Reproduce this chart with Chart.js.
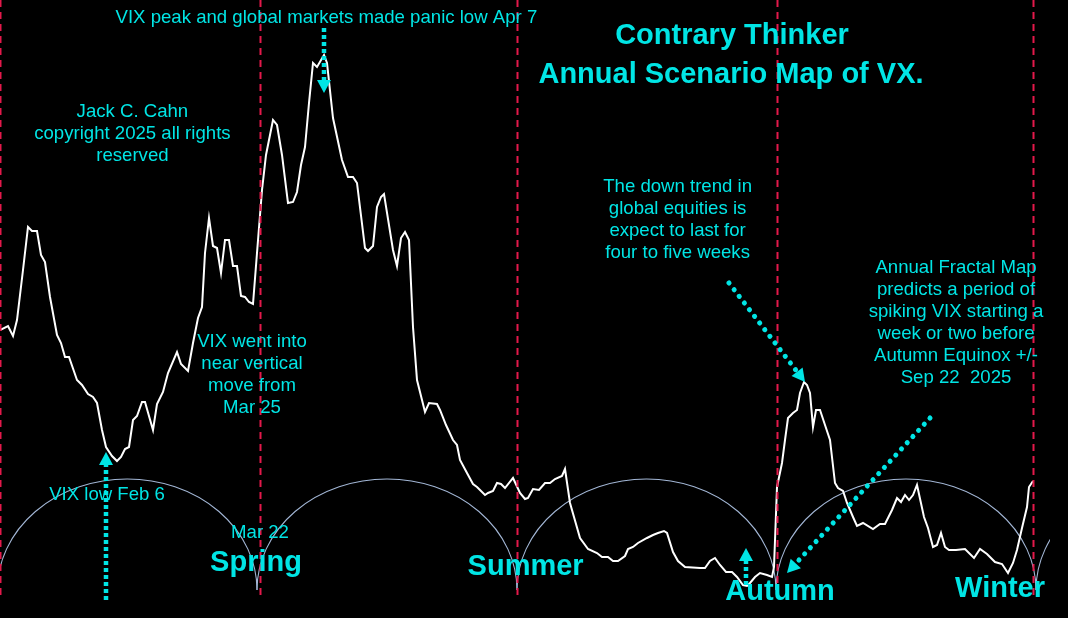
<!DOCTYPE html>
<html>
<head>
<meta charset="utf-8">
<title>Annual Scenario Map of VX</title>
<script src="https://cdn.jsdelivr.net/npm/chart.js@4.4.1/dist/chart.umd.min.js"></script>
<style>
  html, body { margin: 0; padding: 0; background: #000; }
  #wrap { width: 1068px; height: 618px; }
</style>
</head>
<body>
<div id="wrap"><canvas id="myChart" width="1068" height="618"></canvas></div>
<script>
// trading days counted from the winter solstice
const days = [0,2,3.25,4.25,5.75,7,8,9.25,10.25,11.25,12.5,14.25,15.25,16.25,17.25,19.25,20.5,22,23.25,24.25,
  25.5,26.5,28,29.25,30.25,31.25,32.25,33.25,34.25,35.5,36.25,38.25,39.25,40.75,42,44.25,45.25,47,48.25,49.5,
  50.5,51.25,52.25,53.25,54.25,55.25,56.25,57.25,58.25,59.25,60.25,61.25,62.25,63.25,64.25,65.5,66.5,68.25,69.25,70.5,
  72,73.25,74.25,75.25,76.25,77.25,78.25,79.25,81,81.75,83.25,85.5,87,88.25,89.25,91.25,92,93.25,94.25,95.25,
  96,98.25,99.25,100.25,101.25,102.25,103.25,104.25,105.5,106.25,107.25,109.25,110,111.5,113.25,114.25,115,116.75,118.25,119.25,
  121.25,122,123.25,124.25,125.25,126.25,128.25,130,131.25,132,133.25,134.75,136.25,137.5,138.75,140.5,141.25,142.5,145,147,
  149.25,150.5,152,153.25,154.5,156.25,157,158.25,159.5,161.75,163.25,164.5,166,166.75,168.25,169.5,171.25,175,176.25,177.5,
  178.75,180,181.5,183,184.25,185.75,186.75,187.5,188.75,190,191.75,193,193.5,194.25,195.5,196.25,197,198.25,199.25,200,
  201,201.75,202.5,203.25,204,205,206.25,207.5,208.75,209.5,210.75,211.75,213.25,214.25,215.75,218.25,220,221.25,223,224.25,
  225.25,226.25,227.25,228.25,229.25,231,232,233.25,234.25,235.25,236.25,237.25,239,241.25,243.5,245,246.75,248.75,250.5,252,
  253.25,254.25,255.5,256.75,257.25,258.25];

// VX level
const vx = [28.5,28.7,28.2,29.0,31.5,33.65,33.45,33.45,32.25,31.9,30.15,28.25,27.85,27.15,27.15,26.0,25.75,25.3,25.15,24.85,
  23.5,22.65,22.2,21.95,22.15,22.55,22.65,24.0,24.2,24.9,24.9,23.5,24.8,25.4,26.35,27.4,26.8,26.45,27.85,29.1,
  29.65,32.35,34.1,32.7,32.6,31.35,33.0,33.0,31.7,31.7,30.2,30.15,29.9,29.8,32.35,35.5,37.25,39.0,38.75,37.25,
  34.85,34.9,35.4,36.75,37.65,39.85,41.85,41.65,42.25,41.85,39.1,37.0,36.15,36.15,35.85,32.6,32.45,32.7,34.65,35.15,
  35.3,32.5,31.7,33.1,33.4,33.0,28.65,26.0,25.0,24.4,24.85,24.8,24.5,23.75,23.0,22.75,22.0,21.35,20.8,20.65,
  20.25,20.35,20.45,20.85,20.8,20.6,21.1,20.35,20.05,20.1,20.55,20.5,20.85,20.85,21.05,21.2,21.55,19.85,18.1,17.55,
  17.35,17.15,17.15,16.95,16.95,17.2,17.55,17.65,17.85,18.1,18.25,18.35,18.45,18.35,17.4,16.95,16.65,16.6,16.6,16.95,
  17.1,16.75,16.4,16.4,16.15,15.75,15.7,15.85,16.15,16.35,16.25,16.15,16.65,20.65,21.85,23.0,24.1,24.35,24.5,25.35,
  25.9,25.75,25.35,23.65,24.5,24.5,23.75,23.0,20.85,20.6,20.45,19.85,19.15,18.7,18.85,18.55,18.8,18.8,19.5,20.1,
  19.9,20.25,20.0,20.25,20.75,19.15,18.6,17.65,17.75,18.35,17.65,17.5,17.5,17.55,17.1,17.55,17.3,16.9,16.8,16.35,
  16.85,17.5,18.6,19.65,20.65,20.95];

// equinox / solstice turns (trading days)
const seasonDays = [0, 65, 129.25, 194.25, 258.25];
// fractal cycle turning points (trading days) and the arc low / high
const cycleTurns = [-0.65, 64.25, 129.25, 194, 259, 324];
const cycleLow = 15.5;
const cycleHigh = 21.05;

const CYAN = '#00e5e5';
const FONT = '"Liberation Sans", Arial, sans-serif';

// text notes, anchored at (day, level)
const notes = [
  { x: 81.6, y: 43.85, lines: ['VIX peak and global markets made panic low Apr 7'] },
  { x: 183, y: 42.8, lines: ['Contrary Thinker'], bold: true },
  { x: 182.75, y: 40.85, lines: ['Annual Scenario Map of VX.'], bold: true },
  { x: 33.1, y: 39.15, lines: ['Jack C. Cahn', 'copyright 2025 all rights', 'reserved'] },
  { x: 63, y: 27.65, lines: ['VIX went into', 'near vertical', 'move from', 'Mar 25'] },
  { x: 26.75, y: 20.0, lines: ['VIX low Feb 6'] },
  { x: 65, y: 18.1, lines: ['Mar 22'] },
  { x: 169.4, y: 35.4, lines: ['The down trend in', 'global equities is', 'expect to last for', 'four to five weeks'] },
  { x: 239, y: 31.35, lines: ['Annual Fractal Map', 'predicts a period of', 'spiking VIX starting a', 'week or two before', 'Autumn Equinox +/-', 'Sep 22  2025'] },
  { x: 64, y: 16.45, lines: ['Spring'], bold: true },
  { x: 131.4, y: 16.25, lines: ['Summer'], bold: true },
  { x: 195, y: 15.0, lines: ['Autumn'], bold: true },
  { x: 250, y: 15.15, lines: ['Winter'], bold: true }
];

// dotted arrows, from (x1,y1) to tip (x2,y2)
const arrows = [
  { x1: 81, y1: 43.6, x2: 81, y2: 40.35 },
  { x1: 26.5, y1: 15.0, x2: 26.5, y2: 22.4 },
  { x1: 182.25, y1: 30.85, x2: 201.25, y2: 25.9, round: true },
  { x1: 232.5, y1: 24.1, x2: 196.75, y2: 16.35, round: true },
  { x1: 186.5, y1: 15.75, x2: 186.5, y2: 17.6 }
];

function drawArrow(c, x1, y1, x2, y2, round) {
  const ang = Math.atan2(y2 - y1, x2 - x1);
  const head = 13, half = 7;
  const sx = x2 - Math.cos(ang) * head, sy = y2 - Math.sin(ang) * head;
  c.save();
  c.strokeStyle = CYAN;
  c.fillStyle = CYAN;
  if (round) {
    c.lineWidth = 5;
    c.lineCap = 'round';
    c.setLineDash([0.1, 8.3]);
  } else {
    c.lineWidth = 4.5;
    c.lineCap = 'butt';
    c.setLineDash([4, 3]);
  }
  c.beginPath();
  c.moveTo(x1, y1);
  c.lineTo(sx, sy);
  c.stroke();
  c.setLineDash([]);
  c.beginPath();
  c.moveTo(x2, y2);
  c.lineTo(sx + Math.sin(ang) * half, sy - Math.cos(ang) * half);
  c.lineTo(sx - Math.sin(ang) * half, sy + Math.cos(ang) * half);
  c.closePath();
  c.fill();
  c.restore();
}

const backdrop = {
  id: 'backdrop',
  beforeDraw(chart) {
    const c = chart.ctx;
    c.save();
    c.fillStyle = '#000';
    c.fillRect(0, 0, chart.width, chart.height);
    c.restore();
  },
  beforeDatasetsDraw(chart) {
    const c = chart.ctx, xs = chart.scales.x, ys = chart.scales.y;
    const base = ys.getPixelForValue(cycleLow);
    const ry = base - ys.getPixelForValue(cycleHigh);
    c.save();
    c.beginPath();
    c.rect(0, 0, 1050, chart.height);
    c.clip();
    c.strokeStyle = '#a3b7d6';
    c.lineWidth = 1.1;
    for (let i = 0; i < cycleTurns.length - 1; i++) {
      const a = xs.getPixelForValue(cycleTurns[i]);
      const b = xs.getPixelForValue(cycleTurns[i + 1]);
      c.beginPath();
      c.ellipse((a + b) / 2, base, (b - a) / 2, ry, 0, Math.PI, 2 * Math.PI);
      c.stroke();
    }
    c.restore();
  },
  afterDatasetsDraw(chart) {
    const c = chart.ctx, xs = chart.scales.x, ys = chart.scales.y;
    c.save();
    c.strokeStyle = '#e3194b';
    c.lineWidth = 2;
    c.setLineDash([7, 5]);
    const bottom = ys.getPixelForValue(15.2);
    seasonDays.forEach(d => {
      const px = Math.round(xs.getPixelForValue(d)) + 0.5;
      c.beginPath();
      c.moveTo(px, 0);
      c.lineTo(px, bottom);
      c.stroke();
    });
    c.restore();

    c.save();
    c.fillStyle = CYAN;
    c.textAlign = 'center';
    c.textBaseline = 'alphabetic';
    notes.forEach(n => {
      c.font = n.bold ? 'bold 29px ' + FONT : '18.6px ' + FONT;
      const px = xs.getPixelForValue(n.x);
      const py = ys.getPixelForValue(n.y);
      n.lines.forEach((t, i) => c.fillText(t, px, py + i * 22));
    });
    c.restore();

    arrows.forEach(a => drawArrow(c,
      xs.getPixelForValue(a.x1), ys.getPixelForValue(a.y1),
      xs.getPixelForValue(a.x2), ys.getPixelForValue(a.y2), a.round));
  }
};

const ctx = document.getElementById('myChart');
const myChart = new Chart(ctx, {
  type: 'line',
  data: {
    datasets: [{
      data: days.map((d, i) => ({ x: d, y: vx[i] })),
      borderColor: '#ffffff',
      borderWidth: 2,
      pointRadius: 0,
      tension: 0
    }]
  },
  options: {
    responsive: false,
    animation: false,
    layout: { padding: 0 },
    scales: {
      x: { type: 'linear', display: false, min: 0, max: 267 },
      y: { display: false, min: 14.1, max: 45 }
    },
    plugins: {
      legend: { display: false },
      tooltip: { enabled: false }
    }
  },
  plugins: [backdrop]
});
</script>
</body>
</html>
